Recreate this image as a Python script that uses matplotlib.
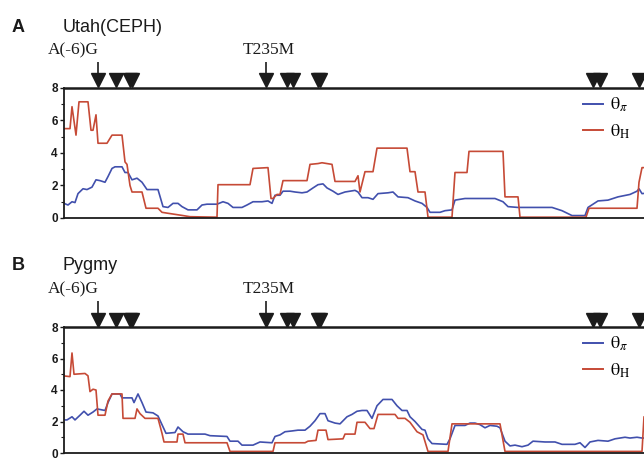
import matplotlib
matplotlib.use('Agg')
import matplotlib.pyplot as plt
from matplotlib.ticker import MultipleLocator

plt.rcParams.update({
    'font.family': ['Liberation Sans', 'DejaVu Sans'],
    'mathtext.fontset': 'stix',
    'axes.linewidth': 1.3,
})

BLUE = '#4150ad'
RED = '#c64a36'
INK = '#1b1b1b'

# sliding-window position (arbitrary units along the gene)
XLIM = (64, 650)

# ── Panel A: Utah (CEPH) ──
A_PI_X = [64, 68, 72, 75, 78, 83, 87, 92, 96, 100, 105, 108, 112, 115, 122, 125, 128, 132, 137, 142,
          147, 158, 163, 168, 173, 178, 182, 188, 197, 202, 207, 217, 223, 228, 233, 242, 247, 253, 262,
          268, 272, 275, 280, 283, 290, 295, 302, 307, 313, 318, 323, 327, 333, 338, 345, 355, 358, 362,
          368, 373, 378, 388, 393, 398, 408, 415, 422, 427, 430, 440, 445, 452, 455, 465, 478, 495, 503,
          508, 518, 532, 552, 562, 572, 585, 588, 598, 608, 618, 630, 637, 639, 642, 650]
A_PI_Y = [0.9, 0.8, 1.0, 0.95, 1.5, 1.8, 1.75, 1.9, 2.35, 2.3, 2.2, 2.55, 3.05, 3.15, 3.15, 2.8, 2.8, 2.35, 2.45, 2.2,
          1.75, 1.75, 0.7, 0.65, 0.9, 0.9, 0.7, 0.5, 0.5, 0.8, 0.85, 0.85, 1.0, 0.9, 0.65, 0.65, 0.8, 1.0, 1.0,
          1.05, 0.9, 1.4, 1.4, 1.65, 1.65, 1.6, 1.55, 1.6, 1.85, 2.05, 2.1, 1.85, 1.65, 1.45, 1.6, 1.7, 1.6, 1.25,
          1.25, 1.15, 1.5, 1.55, 1.6, 1.3, 1.25, 1.05, 0.9, 0.65, 0.35, 0.35, 0.45, 0.5, 1.1, 1.2, 1.2, 1.2, 1.0,
          0.7, 0.65, 0.65, 0.65, 0.45, 0.15, 0.15, 0.65, 1.05, 1.1, 1.3, 1.45, 1.65, 1.8, 1.5, 1.55]

A_H_X = [64, 68, 70, 72, 76, 79, 88, 91, 93, 96, 98, 107, 112, 122, 125, 127, 130, 132, 142, 146, 158, 162,
         167, 183, 190, 217, 218, 250, 253, 268, 271, 273, 277, 280, 283, 307, 310, 318, 322, 327, 332, 335,
         355, 358, 360, 365, 373, 377, 407, 410, 415, 418, 425, 428, 452, 455, 467, 469, 503, 505, 518, 520,
         586, 589, 637, 639, 642, 650]
A_H_Y = [5.5, 5.5, 5.5, 6.85, 5.1, 7.15, 7.15, 5.4, 5.4, 6.35, 4.6, 4.6, 5.1, 5.1, 3.45, 3.3, 2.0, 1.6, 1.6, 0.6, 0.6, 0.35,
         0.3, 0.15, 0.08, 0.05, 2.05, 2.05, 3.05, 3.1, 1.2, 1.2, 1.45, 1.45, 2.3, 2.3, 3.3, 3.35, 3.4, 3.35, 3.3, 2.25,
         2.25, 2.6, 1.6, 2.85, 2.85, 4.3, 4.3, 2.85, 2.85, 1.6, 1.6, 0.05, 0.05, 2.8, 2.8, 4.1, 4.1, 1.3, 1.3, 0.05,
         0.05, 0.6, 0.6, 2.2, 3.1, 3.1]

# ── Panel B: Pygmy ──
B_PI_X = [63, 67, 72, 75, 80, 84, 88, 93, 97, 105, 108, 112, 120, 122, 132, 134, 138, 142, 146, 153, 158, 166,
          175, 178, 183, 188, 205, 210, 227, 230, 238, 242, 253, 260, 272, 275, 280, 285, 292, 298, 305, 310,
          315, 320, 325, 328, 335, 340, 347, 352, 357, 362, 367, 372, 377, 380, 383, 392, 397, 402, 407, 410,
          415, 422, 425, 428, 432, 447, 450, 455, 465, 470, 475, 480, 485, 490, 497, 500, 505, 510, 515, 522,
          528, 533, 545, 555, 562, 575, 580, 585, 590, 598, 608, 615, 625, 630, 637, 642, 650]
B_PI_Y = [2.1, 2.1, 2.3, 2.1, 2.4, 2.65, 2.4, 2.6, 2.8, 2.7, 3.2, 3.75, 3.75, 3.5, 3.5, 3.2, 3.75, 3.2, 2.6, 2.55, 2.35, 1.25,
          1.3, 1.65, 1.35, 1.2, 1.2, 1.1, 1.05, 0.75, 0.75, 0.5, 0.5, 0.7, 0.65, 1.05, 1.15, 1.35, 1.4, 1.45, 1.45, 1.7,
          2.05, 2.5, 2.5, 2.05, 1.9, 1.85, 2.3, 2.45, 2.65, 2.7, 2.7, 2.2, 3.0, 3.2, 3.4, 3.4, 3.0, 2.7, 2.7, 2.3,
          2.0, 1.5, 1.45, 0.9, 0.6, 0.55, 0.9, 1.75, 1.75, 1.9, 1.9, 1.8, 1.6, 1.75, 1.7, 1.6, 0.75, 0.45, 0.5, 0.4,
          0.5, 0.75, 0.7, 0.7, 0.55, 0.55, 0.65, 0.35, 0.7, 0.8, 0.75, 0.9, 1.0, 0.95, 1.0, 0.95, 0.95]

B_H_X = [63, 70, 72, 74, 85, 88, 90, 93, 96, 98, 105, 108, 112, 122, 123, 135, 137, 140, 145, 158, 162, 164,
         177, 178, 183, 185, 227, 230, 273, 275, 305, 308, 316, 318, 326, 328, 343, 345, 355, 357, 365, 370,
         374, 378, 395, 398, 405, 410, 417, 423, 428, 448, 452, 500, 505, 642, 644, 650]
B_H_Y = [4.9, 4.85, 6.35, 5.0, 5.05, 4.9, 3.9, 4.05, 4.0, 2.4, 2.4, 3.3, 3.75, 3.75, 2.2, 2.2, 2.8, 2.5, 2.2, 2.2, 1.25, 0.7,
         0.7, 1.2, 1.2, 0.65, 0.65, 0.1, 0.1, 0.65, 0.65, 0.75, 0.8, 1.45, 1.45, 0.85, 0.9, 1.2, 1.2, 1.95, 1.95, 1.55,
         1.55, 2.45, 2.45, 2.2, 2.2, 1.95, 1.35, 1.15, 0.1, 0.1, 1.85, 1.85, 0.1, 0.1, 2.3, 2.3]

# SNP sites (arrowheads above each panel) and the two named ones
SNP_POS = [98, 116, 130, 132, 266, 287, 293, 318, 320, 593, 600, 639]
SNP_NAMED = [98, 266]
SNP_LABELS = ['A(-6)G', 'T235M']
SNP_LABEL_X = [73, 269]

# panel letter, title, top and bottom of the plot area (pixels from the top)
PANELS = [
    ('A', 'Utah(CEPH)', 88, 218, A_PI_X, A_PI_Y, A_H_X, A_H_Y),
    ('B', 'Pygmy', 327, 453, B_PI_X, B_PI_Y, B_H_X, B_H_Y),
]

W, HPX = 644, 459
fig = plt.figure(figsize=(6.44, 4.59), dpi=100)
for letter, name, top, bot, pix, piy, hx, hy in PANELS:
    ax = fig.add_axes([64 / W, 1 - bot / HPX, (XLIM[1] - XLIM[0]) / W, (bot - top) / HPX])
    ax.plot(pix, piy, color=BLUE, lw=1.2, label=r'$\mathrm{\theta}_{\pi}$')
    ax.plot(hx, hy, color=RED, lw=1.2, label=r'$\mathrm{\theta}_{\mathrm{H}}$')
    ax.set_xlim(*XLIM)
    ax.set_ylim(0, 8)
    ax.spines['right'].set_visible(False)
    ax.spines['top'].set_linewidth(1.8)
    for s in ax.spines.values():
        s.set_color(INK)
    ax.set_xticks([])
    ax.yaxis.set_major_locator(MultipleLocator(2))
    ax.yaxis.set_minor_locator(MultipleLocator(1))
    ax.tick_params(axis='y', which='major', length=3, width=1, pad=1.5,
                   labelsize=8.5, colors=INK)
    ax.tick_params(axis='y', which='minor', length=2, width=0.8, colors=INK)
    for t in ax.get_yticklabels():
        t.set_fontweight('bold')

    # SNP arrowheads on the top spine
    ppu = (bot - top) / 8.0
    ax.plot(SNP_POS, [8 + 7.5 / ppu] * len(SNP_POS), 'v', ms=10.5, color=INK,
            clip_on=False, zorder=5)
    ax.vlines(SNP_NAMED, 8 + 12 / ppu, 8 + 26 / ppu, color=INK, lw=1.2, clip_on=False)
    for lx, lab in zip(SNP_LABEL_X, SNP_LABELS):
        ax.text(lx, 8 + 38 / ppu, lab, ha='center', va='center', fontsize=12.5,
                family='Liberation Serif', color=INK, clip_on=False)

    leg = ax.legend(loc='upper left', bbox_to_anchor=(583 / W, 1 - (top + 8) / HPX),
                    bbox_transform=fig.transFigure, frameon=False, fontsize=13,
                    handlelength=1.1, handletextpad=0.4, labelspacing=0.45,
                    borderpad=0, borderaxespad=0)
    for ln in leg.get_lines():
        ln.set_linewidth(1.4)

    fig.text(12 / W, 1 - (top - 61) / HPX, letter, fontsize=13, fontweight='bold',
             ha='left', va='center', color=INK)
    fig.text(63 / W, 1 - (top - 61) / HPX, name, fontsize=13,
             ha='left', va='center', color=INK)

fig.savefig('out.png', dpi=100, facecolor='white')
